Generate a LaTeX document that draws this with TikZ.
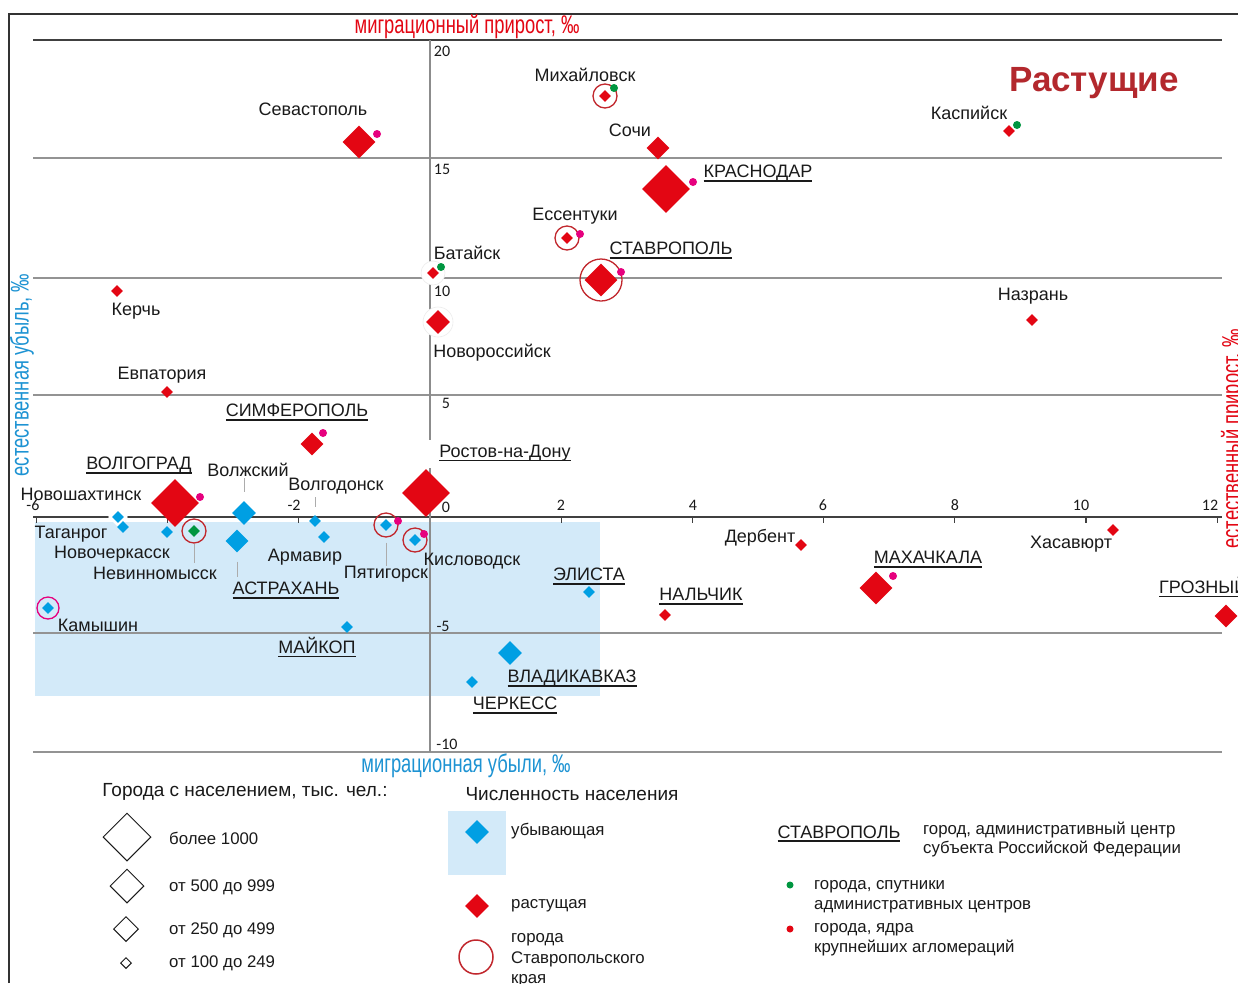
\documentclass[tikz,border=0pt]{standalone}
\usepackage{fontspec}
\setmainfont{Liberation Sans}
\newfontfamily\tickfont{Carlito}
\newfontfamily\narrowfont[FakeStretch=0.72]{Liberation Sans}
\usetikzlibrary{shapes.geometric}
\definecolor{cred}{HTML}{E30613}
\definecolor{cblue}{HTML}{009FE3}
\definecolor{cpale}{HTML}{D3EAF9}
\definecolor{cring}{HTML}{C1272D}
\definecolor{cmag}{HTML}{E6007E}
\definecolor{cgreen}{HTML}{009640}
\definecolor{ctitle}{HTML}{B3282D}
\definecolor{caxblue}{HTML}{1D93D3}
\definecolor{txt}{HTML}{1A1A1A}
\newcommand{\ulx}[1]{\setbox0\hbox{#1}\rlap{\rule[-3.6pt]{\wd0}{1.2pt}}\box0}
\begin{document}
\begin{tikzpicture}[x=1pt,y=-1pt,
  lab/.style={font=\fontsize{18}{20}\selectfont, text=txt, inner sep=0pt, yshift=-1.5pt},
  legtxt/.style={font=\fontsize{16.8}{19.5}\selectfont, text=txt, inner sep=0pt, align=left, anchor=west, yshift=-1.5pt},
  leghead/.style={font=\fontsize{19}{22}\selectfont, text=txt, inner sep=0pt},
  ticklab/.style={font=\tickfont\fontsize{16}{18}\selectfont, text=txt, inner sep=0pt},
  axtitle/.style={font=\narrowfont\fontsize{25.5}{27}\selectfont, inner sep=0pt},
  dia/.style={diamond, inner sep=0pt, aspect=1},
  szA/.style={dia, minimum size=48pt},
  szB/.style={dia, minimum size=33pt},
  szC/.style={dia, minimum size=23pt},
  szD/.style={dia, minimum size=12pt},
  up/.style={fill=cred},
  down/.style={fill=cblue},
  kray/.style={circle, draw=cring, line width=1.3pt, minimum size=24pt, inner sep=0pt},
  mdot/.style={circle, fill=cmag, minimum size=8pt, inner sep=0pt},
  gdot/.style={circle, fill=cgreen, minimum size=8pt, inner sep=0pt},
  halo/.style={circle, fill=white, draw=gray!15, line width=0.6pt, inner sep=0pt},
  leader/.style={draw=gray!65, line width=1pt},
  gridln/.style={draw=gray!85, line width=1.1pt},
  outline/.style={dia, draw=txt, line width=1pt}
]
\useasboundingbox (0,0) rectangle (1238,983);
\fill[white] (0,0) rectangle (1238,983);
% zone of decreasing population
\fill[cpale] (35,522) rectangle (600,696);
% grid
\foreach \yy in {158,278,395,633,752} \draw[gridln] (33,\yy) -- (1222,\yy);
\draw[draw=black!75, line width=1.2pt] (33,40) -- (1222,40);
\draw[draw=black!75, line width=1.6pt] (33,517) -- (1222,517);
\foreach \k in {-6,-4,...,12} \draw[draw=black!75, line width=1.2pt] ({430+65.6*\k},517) -- ++(0,6);
\draw[draw=gray!90, line width=1.5pt] (430,40) -- (430,752);
% frame
\draw[draw=black!80, line width=2pt] (9,983) -- (9,14) -- (1238,14);

% tick labels
\node[ticklab] at (33,505) {-6};
\node[ticklab] at (294,505) {-2};
\node[ticklab] at (446,507) {0};
\node[ticklab] at (561,505) {2};
\node[ticklab] at (693,505) {4};
\node[ticklab] at (823,505) {6};
\node[ticklab] at (955,505) {8};
\node[ticklab] at (1081,505) {10};
\node[ticklab] at (1210,505) {12};
\node[ticklab] at (442,51) {20};
\node[ticklab] at (442,169) {15};
\node[ticklab] at (442,291) {10};
\node[ticklab] at (446,403) {5};
\node[ticklab] at (443,626) {-5};
\node[ticklab] at (447,744) {-10};

% axis titles
\node[axtitle, text=cred] (tTop) at (467,27) {миграционный прирост, ‰};
\node[axtitle, text=caxblue] (tBot) at (466,766) {миграционная убыли, ‰};
\node[axtitle, text=caxblue, rotate=90] (tLeft) at (22,375) {естественная убыль, ‰};
\node[axtitle, text=cred, rotate=90] (tRight) at (1233,439) {естественный прирост, ‰};
\node[font=\bfseries\fontsize{35}{38}\selectfont, text=ctitle, inner sep=0pt] (tGrow) at (1094,83) {Растущие};

% halos
\node[halo, minimum size=30pt] (hNov) at (438,322) {};
\node[halo, minimum size=24pt] (hBat) at (433,273) {};
\node[dia, fill=white, minimum size=20pt] (hNsh) at (118,517) {};
\fill[white] (422,440) rectangle (440,468);

% rings (Stavropol krai)
\node[kray] (rMih) at (605,96) {};
\node[kray] (rEss) at (567,238) {};
\node[kray, minimum size=42pt] (rSta) at (601,280) {};
\node[kray] (rNev) at (194,531) {};
\node[kray] (rPya) at (386,525) {};
\node[kray] (rKis) at (415,540) {};
\node[circle, draw=cmag, line width=1.3pt, minimum size=22pt, inner sep=0pt] (rKam) at (48,608) {};

% growing cities
\node[szB, up] (sev) at (359,142) {};
\node[szD, up] (ker) at (117,291) {};
\node[szD, up] (mih) at (605,96) {};
\node[szC, up] (soc) at (658,148) {};
\node[szA, up] (kra) at (666,189) {};
\node[szD, up] (ess) at (567,238) {};
\node[szD, up] (bat) at (433,273) {};
\node[szB, up] (sta) at (601,280) {};
\node[szC, up, minimum size=24pt] (nov) at (438,322) {};
\node[szD, up] (kas) at (1009,131) {};
\node[szD, up] (naz) at (1032,320) {};
\node[szD, up] (evp) at (167,392) {};
\node[szC, up] (sim) at (312,444) {};
\node[szA, up] (vol) at (175,503) {};
\node[szA, up] (ros) at (426,493) {};
\node[szD, up] (der) at (801,545) {};
\node[szD, up] (nal) at (665,615) {};
\node[szB, up] (mah) at (876,588) {};
\node[szD, up] (has) at (1113,530) {};
\node[szC, up] (gro) at (1226,616) {};

% decreasing cities
\node[szD, down] (nsh) at (118,517) {};
\node[szD, down] (tag) at (123,527) {};
\node[szD, down] (nch) at (167,532) {};
\node[szD, fill=cgreen] (nev) at (194,531) {};
\node[szC, down, minimum size=24pt] (vzh) at (244,513) {};
\node[szC, down] (ast) at (237,541) {};
\node[szD, down] (vdn) at (315,521) {};
\node[szD, down] (arm) at (324,537) {};
\node[szD, down] (pya) at (386,525) {};
\node[szD, down] (kis) at (415,540) {};
\node[szD, down] (eli) at (589,592) {};
\node[szD, down] (kam) at (48,608) {};
\node[szD, down] (mai) at (347,627) {};
\node[szC, down, minimum size=24pt] (vla) at (510,653) {};
\node[szD, down] (che) at (472,682) {};

% satellite (green) and agglomeration core (magenta) dots
\node[mdot] at (377,134) {};
\node[gdot] at (614,88) {};
\node[mdot] at (693,182) {};
\node[mdot] at (580,234) {};
\node[gdot] at (441,267) {};
\node[mdot] at (621,272) {};
\node[gdot] at (1017,125) {};
\node[mdot] at (323,433) {};
\node[mdot] at (200,497) {};
\node[mdot] at (398,521) {};
\node[mdot] at (424,534) {};
\node[mdot] at (893,576) {};

% labels
\node[lab] (sevL) at (313,108) {Севастополь};
\node[lab] (kerL) at (136,310) {Керчь};
\node[lab] (mihL) at (585,73) {Михайловск};
\node[lab] (socL) at (630,129) {Сочи};
\node[lab] (kraL) at (758,172) {\ulx{КРАСНОДАР}};
\node[lab] (essL) at (575,215) {Ессентуки};
\node[lab] (batL) at (467,251) {Батайск};
\node[lab] (staL) at (671,249) {\ulx{СТАВРОПОЛЬ}};
\node[lab] (kasL) at (969,111) {Каспийск};
\node[lab] (nazL) at (1033,295) {Назрань};
\node[lab] (novL) at (492,351) {Новороссийск};
\node[lab] (evpL) at (162,374) {Евпатория};
\node[lab] (simL) at (297,411) {\ulx{СИМФЕРОПОЛЬ}};
\node[lab] (volL) at (139,464) {\ulx{ВОЛГОГРАД}};
\node[lab] (vzhL) at (248,468) {Волжский};
\node[lab] (nshL) at (81,493) {Новошахтинск};
\node[lab] (vdnL) at (336,485) {Волгодонск};
\node[lab] (rosL) at (505,452) {\ulx{Ростов-на-Дону}};
\node[lab] (tagL) at (71,533) {Таганрог};
\node[lab] (nchL) at (112,553) {Новочеркасск};
\node[lab] (nevL) at (155,572) {Невинномысск};
\node[lab] (armL) at (305,556) {Армавир};
\node[lab] (astL) at (286,589) {\ulx{АСТРАХАНЬ}};
\node[lab] (pyaL) at (386,573) {Пятигорск};
\node[lab] (kisL) at (472,560) {Кисловодск};
\node[lab] (eliL) at (589,575) {\ulx{ЭЛИСТА}};
\node[lab] (nalL) at (701,595) {\ulx{НАЛЬЧИК}};
\node[lab] (derL) at (760,536) {Дербент};
\node[lab] (mahL) at (928,558) {\ulx{МАХАЧКАЛА}};
\node[lab] (hasL) at (1071,543) {Хасавюрт};
\node[lab, anchor=west] (groL) at (1159,586) {\ulx{ГРОЗНЫЙ}};
\node[lab] (kamL) at (98,624) {Камышин};
\node[lab] (maiL) at (317,646) {\ulx{МАЙКОП}};
\node[lab] (vlaL) at (572,677) {\ulx{ВЛАДИКАВКАЗ}};
\node[lab] (cheL) at (515,704) {\ulx{ЧЕРКЕСС}};

% leader lines
\draw[leader] ([yshift=9pt]vzh.north) -- ([yshift=23pt]vzh.north);
\draw[leader] ([yshift=8pt]vdn.north) -- ([yshift=18pt]vdn.north);
\draw[leader] (rNev.south) -- ([yshift=-19pt]rNev.south);
\draw[leader] ([yshift=-9pt]ast.south) -- ([yshift=-24pt]ast.south);
\draw[leader] ([yshift=-5pt]rPya.south) -- ([yshift=-28pt]rPya.south);

% ---------------- legend ----------------
\node[leghead] (lh1) at (245,792) {Города с населением, тыс. чел.:};
\node[outline, minimum size=48pt] (l1) at (127,837) {};
\node[outline, minimum size=34pt] (l2) at (127,886) {};
\node[outline, minimum size=25pt] (l3) at (126,929) {};
\node[outline, minimum size=11pt] (l4) at (126,963) {};
\node[legtxt] at (169,837) {более 1000};
\node[legtxt] at (169,886) {от 500 до 999};
\node[legtxt] at (169,929) {от 250 до 499};
\node[legtxt] at (169,962) {от 100 до 249};

\node[leghead] (lh2) at (572,794) {Численность населения};
\fill[cpale] (448,811) rectangle (506,875);
\node[szC, down, minimum size=24pt] (ld) at (477,832) {};
\node[legtxt] at (511,830) {убывающая};
\node[szC, up, minimum size=24pt] (lu) at (477,906) {};
\node[legtxt] at (511,904) {растущая};
\node[circle, draw=cring, line width=1.5pt, minimum size=34pt, inner sep=0pt] (lr) at (476,957) {};
\node[legtxt, font=\fontsize{16.8}{20.5}\selectfont] at (511,959) {города\\Ставропольского\\края};

\node[lab] (lsta) at (839,832) {\ulx{СТАВРОПОЛЬ}};
\node[legtxt] at (923,838) {город, административный центр\\субъекта Российской Федерации};
\node[gdot, minimum size=7pt] (lg) at (790,885) {};
\node[legtxt] at (814,895) {города, спутники\\административных центров};
\node[circle, fill=cred, minimum size=7pt, inner sep=0pt] (lm) at (790,929) {};
\node[legtxt] at (814,938) {города, ядра\\крупнейших агломераций};
\end{tikzpicture}
\end{document}
